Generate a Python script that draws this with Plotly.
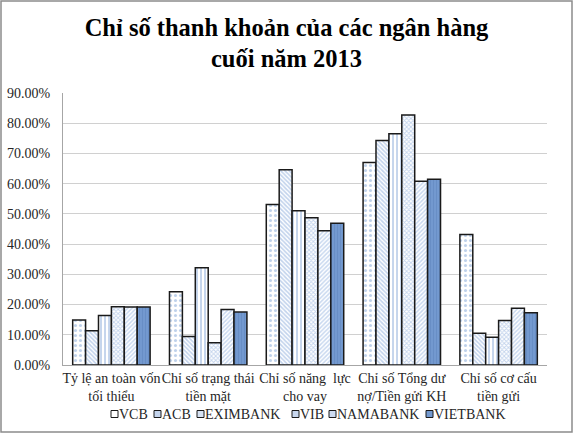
import plotly.graph_objects as go

categories = ["Tỷ lệ an toàn vốn<br>tối thiểu", "Chỉ số trạng thái<br>tiền mặt",
              "Chỉ số năng  lực<br>cho vay", "Chỉ số Tổng dư<br>nợ/Tiền gửi KH",
              "Chỉ số cơ cấu<br>tiền gửi"]
banks = ["VCB", "ACB", "EXIMBANK", "VIB", "NAMABANK", "VIETBANK"]
vcb = [14.9, 24.2, 53.1, 67.0, 43.2]
acb = [11.3, 9.4, 64.6, 74.3, 10.5]
eximbank = [16.4, 32.2, 51.0, 76.5, 9.2]
vib = [19.3, 7.4, 48.7, 82.7, 14.7]
namabank = [19.2, 18.4, 44.4, 60.8, 18.8]
vietbank = [19.2, 17.5, 46.9, 61.5, 17.3]
series = [vcb, acb, eximbank, vib, namabank, vietbank]
yticks = [0, 10, 20, 30, 40, 50, 60, 70, 80, 90]
ytick_text = [f"{v:.2f}%" for v in yticks]

styles = [
    dict(shape=".", fg="#7fa3d6", bg="white", size=5, sol=0.3, swatch="#ffffff"),
    dict(shape="\\", fg="#86a8da", bg="white", size=3, sol=0.55, swatch="#c4d4ec"),
    dict(shape="|", fg="#7fa3d6", bg="white", size=4, sol=0.45, swatch="#d6e2f3"),
    dict(shape="x", fg="#86a8da", bg="white", size=3, sol=0.5, swatch="#c8d7ee"),
    dict(shape="/", fg="#92b2df", bg="white", size=3, sol=0.5, swatch="#cddbf0"),
    dict(shape="|", fg="#5b80b8", bg="#7399cf", size=3, sol=0.3, swatch="#7399cf"),
]

fig = go.Figure()
for name, vals, st in zip(banks, series, styles):
    fig.add_trace(go.Bar(
        x=categories, y=vals, name=name,
        marker=dict(color=st["bg"],
                    line=dict(color="#1a1a1a", width=1.5),
                    pattern=dict(shape=st["shape"], fgcolor=st["fg"], bgcolor=st["bg"],
                                 size=st["size"], solidity=st["sol"], fillmode="overlay")),
    ))

W, H = 573, 433
ml, mr, mt, mb = 63, 26, 93, 68
pw, ph = W - ml - mr, H - mt - mb
FONT = "Liberation Serif, Times New Roman, serif"

fig.update_layout(
    width=W, height=H,
    margin=dict(l=ml, r=mr, t=mt, b=mb, pad=0, autoexpand=False),
    paper_bgcolor="white", plot_bgcolor="white",
    barmode="group", bargap=0.2, bargroupgap=0,
    font=dict(family=FONT, size=14, color="#262626"),
    title=dict(text="Chỉ số thanh khoản của các ngân hàng<br>cuối năm 2013",
               x=0.5, xanchor="center", y=1 - 35.5 / H, yanchor="top",
               font=dict(family=FONT, size=24.5, color="black", weight="bold")),
    xaxis=dict(showline=True, linecolor="#a6a6a6", linewidth=1, ticks="",
               tickangle=0, tickfont=dict(size=14), fixedrange=True, automargin=False),
    yaxis=dict(range=[0, 90], tickvals=yticks, ticktext=ytick_text,
               showgrid=True, gridcolor="#d0d0d0", gridwidth=1,
               showline=True, linecolor="#a6a6a6", linewidth=1,
               ticks="", ticklabelstandoff=9, automargin=False,
               zeroline=False, tickfont=dict(size=14)),
    showlegend=False,
)

# compact legend (swatch + label) under the axis, as in the reference
legend_left = [111, 154, 197, 292, 329, 426]
legend_y = 414
def px_x(x):
    return (x - ml) / pw
def px_y(y):
    return (H - mb - y) / ph
for name, st, lx in zip(banks, styles, legend_left):
    fig.add_shape(type="rect", xref="paper", yref="paper",
                  x0=px_x(lx), x1=px_x(lx + 7), y0=px_y(legend_y + 3.5), y1=px_y(legend_y - 3.5),
                  line=dict(color="#1a1a1a", width=1), fillcolor=st["swatch"])
    fig.add_annotation(text=name, xref="paper", yref="paper", x=px_x(lx + 7), y=px_y(legend_y),
                       xanchor="left", yanchor="middle", showarrow=False,
                       font=dict(family=FONT, size=14, color="#262626"), borderpad=0)

fig.add_shape(type="rect", xref="paper", yref="paper",
              x0=-(ml - 1) / pw, x1=1 + (mr - 1) / pw,
              y0=-(mb - 1) / ph, y1=1 + (mt - 1) / ph,
              line=dict(color="#8c8c8c", width=1.5), fillcolor="rgba(0,0,0,0)", layer="below")

fig.write_html("out.html", config={"displayModeBar": False},
               post_script="document.body.style.margin='0';document.body.style.overflow='hidden';")
